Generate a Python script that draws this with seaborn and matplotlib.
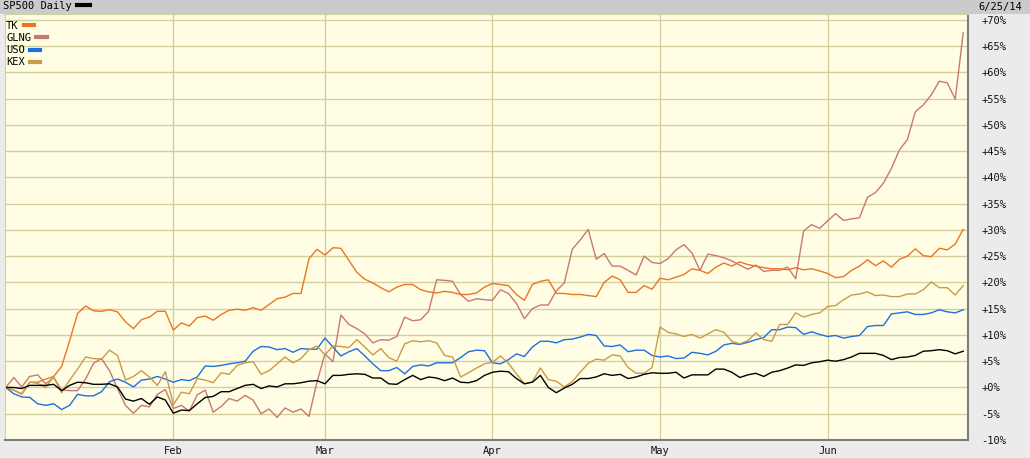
import matplotlib
matplotlib.use("Agg")
import matplotlib.pyplot as plt
from matplotlib.lines import Line2D
from matplotlib.patches import Rectangle
import seaborn as sns
import pandas as pd

# % change since Jan 2 2014, one value per trading day (Jan 2 .. Jun 25)
tk = [0, -0.5, -1.2, 1.0, 1.0, 1.6, 2.1, 4.0, 8.9, 14.1, 15.5, 14.6, 14.5, 14.8, 14.4, 12.5, 11.2, 12.9, 13.4, 14.5, 14.5,
      10.9, 12.3, 11.7, 13.3, 13.6, 12.8, 13.9, 14.7, 14.9, 14.7, 15.2, 14.7, 15.8, 16.9, 17.2, 17.9, 17.9, 24.5, 26.3,
      25.2, 26.6, 26.5, 24.2, 21.9, 20.6, 19.9, 19.0, 18.2, 19.1, 19.6, 19.6, 18.6, 18.2, 18.0, 18.3, 18.1, 17.7, 17.7, 18.0, 19.1,
      19.8, 19.6, 19.4, 17.7, 16.6, 19.6, 20.2, 20.5, 17.9, 17.9, 17.7, 17.7, 17.5, 17.3, 20.0, 21.2, 20.5, 18.1, 18.1, 19.4, 18.7,
      20.8, 20.5, 21.0, 21.5, 22.6, 22.3, 21.7, 22.9, 23.7, 23.1, 23.9, 23.4, 23.1, 22.8, 22.6, 22.6, 22.4, 22.8, 22.4, 22.6, 22.2,
      21.7, 20.9, 21.1, 22.3, 23.1, 24.3, 23.2, 24.1, 22.9, 24.4, 25.0, 26.4, 25.1, 24.9, 26.5, 26.2, 27.3, 30.1]
glng = [0, 1.9, 0.1, 2.1, 2.4, 0.7, 1.9, -0.5, -0.6, -0.6, 1.6, 4.6, 5.5, 3.2, -0.2, -3.4, -4.9, -3.4, -3.7, -1.3, -0.4,
        -4.0, -3.4, -4.5, -1.4, -0.5, -4.7, -3.6, -2.1, -2.6, -1.5, -2.4, -5.0, -4.1, -5.7, -3.9, -4.7, -4.1, -5.5, 1.0,
        6.4, 4.9, 13.8, 12.0, 11.2, 10.2, 8.5, 9.1, 9.0, 9.7, 13.4, 12.7, 12.9, 14.5, 20.5, 20.4, 20.2, 17.7, 16.4, 16.9, 16.7,
        16.6, 18.6, 17.9, 16.0, 13.1, 15.0, 15.7, 15.7, 18.4, 19.9, 26.3, 28.1, 30.1, 24.4, 25.5, 23.1, 23.1, 22.3, 21.4, 25.0, 23.8,
        23.6, 24.5, 26.2, 27.2, 25.6, 22.3, 25.4, 25.1, 24.7, 24.1, 23.3, 22.5, 23.3, 22.1, 22.3, 22.3, 22.9, 20.7, 29.8, 31.0, 30.3,
        31.7, 33.1, 31.8, 32.1, 32.3, 36.2, 37.1, 38.9, 41.7, 45.2, 47.2, 52.5, 53.8, 55.7, 58.3, 58.0, 54.9, 67.5]
uso = [0, -1.2, -1.8, -1.9, -3.1, -3.4, -3.1, -4.2, -3.4, -1.3, -1.6, -1.6, -0.8, 1.1, 1.6, 1.0, 0.1, 1.4, 1.6, 2.1, 1.6,
       1.0, 1.5, 1.3, 2.0, 4.1, 4.0, 4.2, 4.5, 4.7, 5.0, 6.9, 7.8, 7.7, 7.2, 7.4, 6.7, 7.4, 7.3, 7.3,
       9.4, 7.7, 6.0, 6.8, 7.4, 6.0, 4.5, 3.2, 3.2, 3.8, 2.6, 4.0, 4.3, 4.1, 4.7, 4.7, 4.7, 5.7, 6.8, 7.1, 7.0,
       4.7, 4.5, 5.3, 6.4, 5.9, 7.7, 8.8, 8.8, 8.5, 9.1, 9.2, 9.6, 10.1, 9.9, 7.9, 7.8, 8.1, 6.8, 7.1, 7.1, 6.1,
       5.8, 6.0, 5.5, 5.6, 6.7, 6.5, 6.2, 6.9, 8.1, 8.4, 8.2, 8.6, 9.1, 9.5, 11.0, 11.0, 11.5, 11.4, 10.1, 10.6, 10.1,
       9.7, 9.9, 9.4, 9.7, 9.9, 11.6, 11.8, 11.8, 14.0, 14.2, 14.4, 13.9, 13.9, 14.2, 14.8, 14.4, 14.2, 14.8]
kex = [0, -0.5, -1.3, 1.0, 0.8, 0, 2.0, -1.0, 1.4, 3.5, 5.8, 5.5, 5.4, 7.1, 6.1, 1.4, 2.1, 3.2, 2.0, 0.4, 3.0,
       -3.3, -0.9, -1.2, 1.7, 1.4, 0.9, 2.8, 2.5, 4.2, 4.7, 4.9, 2.5, 3.2, 4.5, 5.8, 4.7, 5.5, 7.2, 7.9,
       6.2, 7.9, 7.8, 7.6, 9.1, 7.7, 6.2, 7.4, 5.7, 5.0, 8.3, 8.9, 8.7, 8.9, 8.5, 6.1, 5.8, 2.0, 2.8, 3.7, 4.5,
       4.8, 6.0, 4.6, 2.6, 0.7, 1.1, 3.7, 1.5, 1.2, 0.1, 1.1, 2.9, 4.6, 5.4, 5.2, 6.2, 6.0, 3.8, 2.7, 2.7, 3.8,
       11.5, 10.5, 10.2, 9.7, 10.1, 9.4, 10.2, 11.0, 10.5, 8.8, 8.3, 8.9, 10.4, 9.1, 8.8, 12.0, 12.0, 14.2, 13.4, 13.9, 14.2,
       15.4, 15.6, 16.7, 17.6, 17.8, 18.2, 17.5, 17.6, 17.3, 17.3, 17.8, 17.8, 18.6, 20.1, 19.0, 19.0, 17.6, 19.4]
sp500 = [0, 0, -0.2, 0.4, 0.4, 0.4, 0.6, -0.6, 0.4, 1.0, 0.9, 0.6, 0.6, 0.7, 0.1, -2.2, -2.6, -2.1, -3.2, -1.8, -2.4,
         -4.9, -4.3, -4.4, -3.1, -1.9, -1.7, -0.8, -0.8, -0.2, 0.4, 0.6, -0.2, 0.3, 0.1, 0.7, 0.7, 0.9, 1.2, 1.3,
         0.7, 2.3, 2.3, 2.5, 2.6, 2.5, 1.8, 1.8, 0.7, 0.6, 1.5, 2.3, 1.5, 2.0, 1.8, 1.3, 1.8, 1.0, 0.9, 1.3, 2.3,
         2.9, 3.1, 3.0, 1.7, 0.7, 1.0, 2.3, 0.0, -1.0, -0.1, 0.6, 1.7, 1.7, 2.0, 2.6, 2.3, 2.5, 1.7, 2.0, 2.5, 2.8,
         2.7, 2.7, 2.9, 1.8, 2.4, 2.4, 2.4, 3.5, 3.5, 2.9, 1.9, 2.4, 2.7, 2.1, 2.9, 3.2, 3.7, 4.3, 4.2, 4.7, 4.9,
         5.2, 5.0, 5.3, 5.8, 6.5, 6.5, 6.5, 6.1, 5.3, 5.7, 5.8, 6.1, 6.9, 7.0, 7.2, 7.0, 6.4, 6.9]

symbols = ['GLNG', 'TK', 'USO', 'KEX', 'SP500']
colors = {'TK': '#ec7424', 'GLNG': '#c87872', 'USO': '#1e6fe0', 'KEX': '#c89b48', 'SP500': '#000000'}

holidays = pd.to_datetime(['2014-01-20', '2014-02-17', '2014-04-18', '2014-05-26'])
days = pd.bdate_range('2014-01-02', '2014-06-25')
days = days[~days.isin(holidays)]

series = {'TK': tk, 'GLNG': glng, 'USO': uso, 'KEX': kex, 'SP500': sp500}
df = pd.concat([pd.DataFrame({'day': range(len(days)), 'pct': series[s], 'symbol': s}) for s in symbols])

plt.rcParams['font.family'] = ['DejaVu Sans Mono']
fig = plt.figure(figsize=(10.3, 4.58), dpi=100, facecolor='#ebebeb')
ax = fig.add_axes([5 / 1030, 18 / 458, 963 / 1030, 426 / 458])
ax.set_facecolor('#fffee4')

sns.lineplot(data=df, x='day', y='pct', hue='symbol', hue_order=symbols, palette=colors,
             linewidth=1, legend=False, ax=ax)

# month gridlines at first trading day of each month
month_starts = [i for i in range(1, len(days)) if days[i].month != days[i - 1].month]
ax.set_xticks(month_starts)
ax.set_xticklabels([days[i].strftime('%b') for i in month_starts])
yt = list(range(-10, 71, 5))
ax.set_yticks(yt)
ax.set_yticklabels([f'{v:+d}%' for v in yt])
ax.yaxis.tick_right()
ax.set_xlim(-0.1, 120.6)
ax.set_ylim(-10, 71.1)
ax.set_xlabel('')
ax.set_ylabel('')
ax.tick_params(axis='both', length=0, labelsize=7.5, colors='#111111')
ax.tick_params(axis='y', pad=9.5)
ax.tick_params(axis='x', pad=4)
ax.grid(True, color='#d4d09e', linewidth=1)
ax.set_axisbelow(True)
for side in ['left', 'top']:
    ax.spines[side].set_color('#d4d09e')
for side in ['right', 'bottom']:
    ax.spines[side].set_color('#7c7c7c')
    ax.spines[side].set_linewidth(1.5)

handles = [Line2D([], [], color=colors[s], lw=3) for s in ['TK', 'GLNG', 'USO', 'KEX']]
leg = ax.legend(handles, ['TK', 'GLNG', 'USO', 'KEX'], loc='upper left', bbox_to_anchor=(0, 0.986),
                frameon=False, markerfirst=False, handlelength=1.0, handletextpad=0.5,
                labelspacing=0.2, borderaxespad=0.0, borderpad=0.1, fontsize=7.5)
for col in leg._legend_handle_box.get_children():
    col.align = 'left'

# header bar
fig.patches.append(Rectangle((0, 1 - 14 / 458), 1, 14 / 458, transform=fig.transFigure,
                             facecolor='#cbcbcb', edgecolor='none', zorder=0))
fig.legend([Line2D([], [], color='black', lw=3)], ['SP500 Daily'], loc='upper left',
           bbox_to_anchor=(2 / 1030, 1), frameon=False, markerfirst=False, handlelength=1.2,
           handletextpad=0.5, borderaxespad=0.05, borderpad=0.05, fontsize=7.5)
fig.text(1 - 8 / 1030, 1 - 7 / 458, '6/25/14', ha='right', va='center', fontsize=7.5)

fig.savefig('out.png', dpi=100, facecolor=fig.get_facecolor())
